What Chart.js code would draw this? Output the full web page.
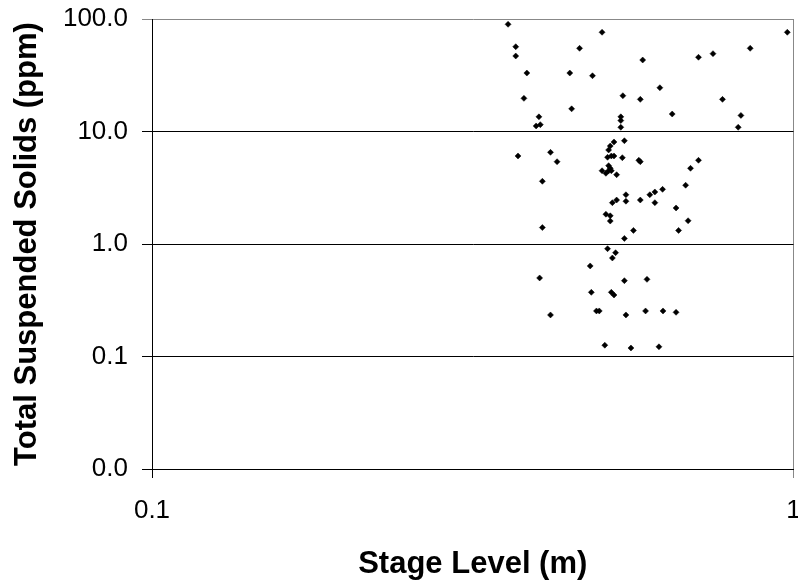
<!DOCTYPE html>
<html>
<head>
<meta charset="utf-8">
<script src="https://cdn.jsdelivr.net/npm/chart.js@4"></script>
<style>
  body { margin: 0; background: #fff; }
  #wrap { width: 798px; height: 583px; }
</style>
</head>
<body>
<div id="wrap"><canvas id="tssChart" width="798" height="583"></canvas></div>
<script>
// stage level (m) and total suspended solids (ppm)
const stageLevel = [
  0.359, 0.503, 0.978, 0.369, 0.369, 0.464, 0.856, 0.749, 0.711, 0.582,
  0.384, 0.448, 0.486, 0.619, 0.380, 0.542, 0.577, 0.775, 0.451, 0.647,
  0.401, 0.538, 0.828, 0.397, 0.403, 0.538, 0.538, 0.820, 0.545, 0.525,
  0.518, 0.515, 0.372, 0.418, 0.428, 0.513, 0.520, 0.525, 0.541, 0.574,
  0.577, 0.711, 0.691, 0.515, 0.518, 0.503, 0.510, 0.515, 0.520, 0.530,
  0.406, 0.679, 0.625, 0.608, 0.597, 0.548, 0.548, 0.530, 0.522, 0.577,
  0.608, 0.656, 0.510, 0.518, 0.518, 0.685, 0.406, 0.563, 0.662, 0.545,
  0.513, 0.528, 0.522, 0.482, 0.402, 0.545, 0.591, 0.484, 0.520, 0.525,
  0.418, 0.493, 0.498, 0.548, 0.588, 0.626, 0.656, 0.508, 0.558, 0.617
];
const tss = [
  89.7, 76.2, 76.2, 56.7, 46.9, 54.9, 54.9, 49.2, 45.7, 43.2,
  33.1, 33.1, 31.3, 24.5, 19.7, 20.8, 19.3, 19.3, 15.9, 14.3,
  13.5, 13.5, 13.9, 11.2, 11.5, 12.5, 10.9, 10.9, 8.28, 8.07,
  7.43, 6.85, 6.06, 6.53, 5.39, 5.90, 6.06, 6.06, 5.85, 5.55,
  5.39, 5.55, 4.71, 4.97, 4.71, 4.48, 4.25, 4.48, 4.48, 4.13,
  3.61, 3.33, 3.06, 2.90, 2.74, 2.74, 2.40, 2.46, 2.33, 2.46,
  2.33, 2.09, 1.84, 1.78, 1.60, 1.61, 1.40, 1.32, 1.32, 1.12,
  0.908, 0.837, 0.751, 0.638, 0.499, 0.472, 0.485, 0.372, 0.372, 0.352,
  0.234, 0.254, 0.254, 0.234, 0.254, 0.254, 0.247, 0.126, 0.119, 0.122
];
const xTicks = [0.1, 1];
const yTicks = [0.01, 0.1, 1, 10, 100];

const fontFamily = "'Liberation Sans', Arial, sans-serif";

const points = stageLevel.map((x, i) => ({ x: x, y: tss[i] }));

new Chart(document.getElementById("tssChart"), {
  type: "scatter",
  data: {
    datasets: [{
      data: points,
      pointStyle: "rectRot",
      pointRadius: 3,
      pointBorderWidth: 0.5,
      backgroundColor: "#000",
      borderColor: "#000"
    }]
  },
  options: {
    responsive: false,
    animation: false,
    layout: { padding: { top: 19, right: 4, left: 0, bottom: 0 } },
    plugins: { legend: { display: false }, tooltip: { enabled: false } },
    scales: {
      x: {
        type: "logarithmic",
        min: 0.1,
        max: 1,
        afterBuildTicks: scale => { scale.ticks = xTicks.map(v => ({ value: v })); },
        afterFit: scale => {
          scale.height = 114;
          scale.paddingLeft = 0;
          scale.paddingRight = 0;
        },
        ticks: {
          color: "#000",
          padding: 17,
          maxRotation: 0,
          font: { family: fontFamily, size: 26 },
          callback: v => (v === 1 ? "1" : "0.1")
        },
        grid: {
          color: ctx => (ctx.index === 0 ? "#000" : "#888"),
          tickLength: 9,
          lineWidth: 1
        },
        border: { display: true, color: "#000" },
        title: {
          display: true,
          text: "Stage Level (m)",
          color: "#000",
          padding: { top: 0, bottom: 0 },
          font: { family: fontFamily, size: 31, weight: "bold" }
        }
      },
      y: {
        type: "logarithmic",
        min: 0.01,
        max: 100,
        afterBuildTicks: scale => { scale.ticks = yTicks.map(v => ({ value: v })); },
        afterFit: scale => {
          scale.width = 152;
          scale.paddingTop = 0;
          scale.paddingBottom = 0;
        },
        ticks: {
          color: "#000",
          padding: 14,
          font: { family: fontFamily, size: 26 },
          callback: v => Number(v).toFixed(1)
        },
        grid: {
          color: ctx => (ctx.index === 4 ? "#888" : "#000"),
          tickLength: 10,
          lineWidth: 1
        },
        border: { display: true, color: "#000" },
        title: {
          display: true,
          text: "Total Suspended Solids (ppm)",
          color: "#000",
          padding: { top: 9, bottom: 0 },
          font: { family: fontFamily, size: 31, weight: "bold" }
        }
      }
    }
  }
});
</script>
</body>
</html>
